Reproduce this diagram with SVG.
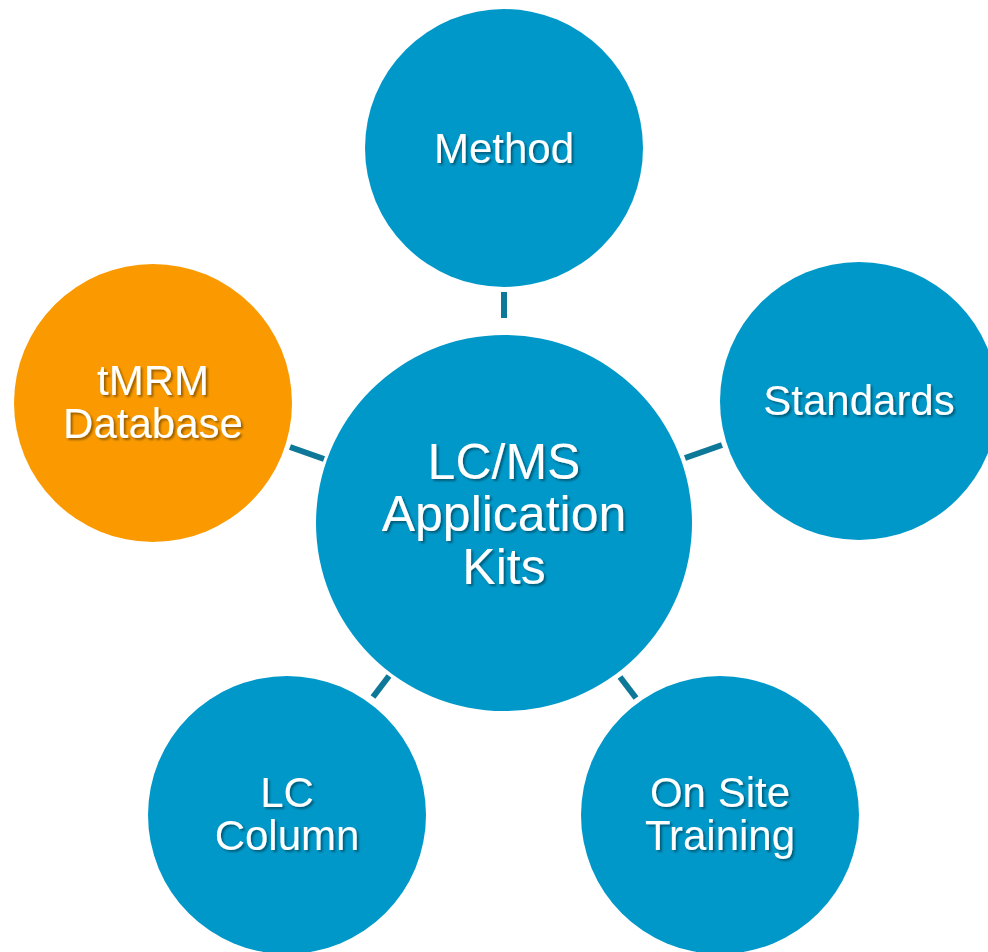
<svg xmlns="http://www.w3.org/2000/svg" width="988" height="952" viewBox="0 0 988 952">
<defs>
<filter id="sh" x="-10%" y="-10%" width="130%" height="130%">
<feDropShadow dx="2" dy="2" stdDeviation="1.2" flood-color="#000" flood-opacity="0.4"/>
</filter>
<style>
.b{fill:#0098C9}
.o{fill:#FA9A00}
.t{fill:#fff;font-family:"Liberation Sans",Arial,sans-serif;font-size:42px;text-anchor:middle;filter:url(#sh)}
.tc{font-size:50px}
.c{stroke:#0E7899;stroke-width:6;fill:none}
</style>
</defs>
<rect width="988" height="952" fill="#fff"/>
<g id="connectors">
<line class="c" x1="504" y1="292" x2="504" y2="318"/>
<line class="c" x1="290" y1="447" x2="324" y2="459"/>
<line class="c" x1="685" y1="458" x2="722" y2="445"/>
<line class="c" x1="373" y1="697" x2="389" y2="676"/>
<line class="c" x1="620" y1="677" x2="636" y2="698"/>
</g>
<g id="center">
<circle class="b" cx="504" cy="523" r="188"/>
<text class="t tc" x="504" y="479">LC/MS</text>
<text class="t tc" x="504" y="531">Application</text>
<text class="t tc" x="504" y="584">Kits</text>
</g>
<g id="method">
<circle class="b" cx="504" cy="148" r="139"/>
<text class="t" x="504" y="163">Method</text>
</g>
<g id="standards">
<circle class="b" cx="859" cy="401" r="139"/>
<text class="t" x="859" y="415">Standards</text>
</g>
<g id="tmrm">
<circle class="o" cx="153" cy="403" r="139"/>
<text class="t" x="153" y="395">tMRM</text>
<text class="t" x="153" y="438">Database</text>
</g>
<g id="lccolumn">
<circle class="b" cx="287" cy="815" r="139"/>
<text class="t" x="287" y="807">LC</text>
<text class="t" x="287" y="850">Column</text>
</g>
<g id="onsite">
<circle class="b" cx="720" cy="815" r="139"/>
<text class="t" x="720" y="807">On Site</text>
<text class="t" x="720" y="850">Training</text>
</g>
</svg>
